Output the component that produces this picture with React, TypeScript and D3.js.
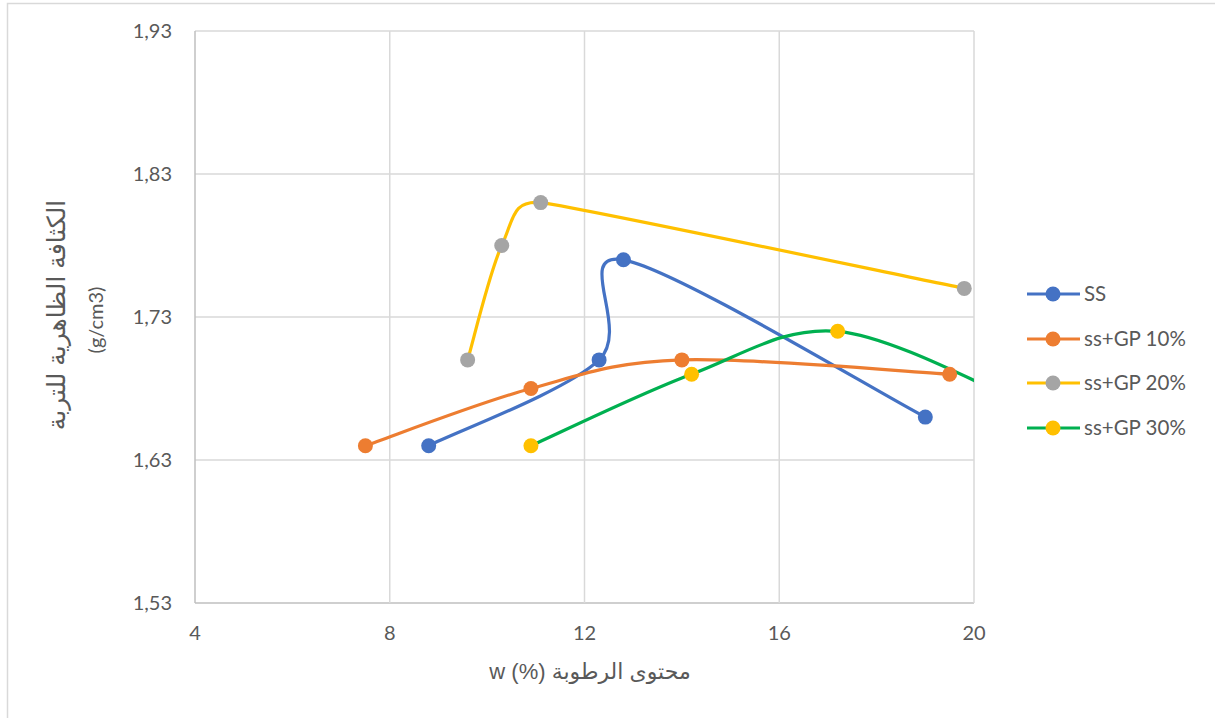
import React from "react";
import * as d3 from "d3";

const seriesNames = ["SS", "ss+GP 10%", "ss+GP 20%", "ss+GP 30%"];
const ssX = [8.8, 12.3, 12.8, 19.0];
const ssY = [1.64, 1.7, 1.77, 1.66];
const gp10X = [7.5, 10.9, 14.0, 19.5];
const gp10Y = [1.64, 1.68, 1.7, 1.69];
const gp20X = [9.6, 10.3, 11.1, 19.8];
const gp20Y = [1.7, 1.78, 1.81, 1.75];
const gp30X = [10.9, 14.2, 17.2, 21.0];
const gp30Y = [1.64, 1.69, 1.72, 1.67];
const xTicks = [4, 8, 12, 16, 20];
const yTicks = [1.53, 1.63, 1.73, 1.83, 1.93];

const lineColors = ["#4472C4", "#ED7D31", "#FFC000", "#00B050"];
const markerColors = ["#4472C4", "#ED7D31", "#A5A5A5", "#FFC000"];

const W = 1215;
const H = 718;
const L = 195, R = 974, T = 31, B = 603;

// Excel-like smoothed path through pixel points
function smoothPath(pts: number[][]): string {
  const n = pts.length;
  if (n < 2) return "";
  const dist = (a: number[], b: number[]) => Math.hypot(b[0] - a[0], b[1] - a[1]);
  // tangent vectors (scaled) at each point
  const tan: number[][] = pts.map((p, i) => {
    if (i === 0 || i === n - 1) return [0, 0];
    const p0 = pts[i - 1], p2 = pts[i + 1];
    const d02 = dist(p0, p2);
    const dmin = Math.min(dist(p0, p), dist(p, p2));
    let f = 1 / 6;
    if (d02 * f > dmin / 2) f = dmin / (2 * d02);
    return [(p2[0] - p0[0]) * f, (p2[1] - p0[1]) * f];
  });
  let d = `M${pts[0][0]},${pts[0][1]}`;
  for (let i = 0; i < n - 1; i++) {
    const a = pts[i], b = pts[i + 1];
    const c1 = i === 0 ? [a[0] + (b[0] - a[0]) / 6, a[1] + (b[1] - a[1]) / 6] : [a[0] + tan[i][0], a[1] + tan[i][1]];
    const c2 = i + 1 === n - 1 ? [b[0] - (b[0] - a[0]) / 6, b[1] - (b[1] - a[1]) / 6] : [b[0] - tan[i + 1][0], b[1] - tan[i + 1][1]];
    d += `C${c1[0]},${c1[1]} ${c2[0]},${c2[1]} ${b[0]},${b[1]}`;
  }
  return d;
}

export default function App() {
  const x = d3.scaleLinear().domain([4, 20]).range([L, R]);
  const y = d3.scaleLinear().domain([1.53, 1.93]).range([B, T]);
  const series = [
    ssX.map((v, i) => [v, ssY[i]]),
    gp10X.map((v, i) => [v, gp10Y[i]]),
    gp20X.map((v, i) => [v, gp20Y[i]]),
    gp30X.map((v, i) => [v, gp30Y[i]]),
  ];
  const fmt = (v: number) => d3.format(".2f")(v).replace(".", ",");
  const font = "Lato, 'Open Sans', sans-serif";
  const legendY = [294, 339, 383, 428];

  return (
    <svg
      width={W}
      height={H}
      style={{ position: "absolute", left: 0, top: 0, background: "#fff" }}
    >
      <defs>
        <clipPath id="plotclip">
          <rect x={L} y={T - 20} width={R - L} height={B - T + 40} />
        </clipPath>
      </defs>
      <rect x={7.5} y={3.5} width={1400} height={900} fill="#fff" stroke="#d9d9d9" strokeWidth={1.5} />
      {yTicks.map((t) => (
        <line key={"gy" + t} x1={L} x2={R} y1={y(t)} y2={y(t)} stroke={t === 1.53 ? "#bfbfbf" : "#d9d9d9"} strokeWidth={1.5} />
      ))}
      {xTicks.map((t) => (
        <line key={"gx" + t} x1={x(t)} x2={x(t)} y1={T} y2={B} stroke={t === 4 ? "#bfbfbf" : "#d9d9d9"} strokeWidth={1.5} />
      ))}
      {yTicks.map((t) => (
        <text key={"ty" + t} x={172} y={y(t)} dy="0.35em" textAnchor="end" fontFamily={font} fontSize={20} fill="#595959">
          {fmt(t)}
        </text>
      ))}
      {xTicks.map((t) => (
        <text key={"tx" + t} x={x(t)} y={633} dy="0.35em" textAnchor="middle" fontFamily={font} fontSize={20} fill="#595959">
          {t}
        </text>
      ))}
      <g clipPath="url(#plotclip)">
        {series.map((s, i) => (
          <path
            key={"l" + i}
            d={smoothPath(s.map((d) => [x(d[0]), y(d[1])]))}
            fill="none"
            stroke={lineColors[i]}
            strokeWidth={3.2}
            strokeLinecap="round"
          />
        ))}
        {series.map((s, i) =>
          s.map((d, j) => (
            <circle key={"m" + i + "-" + j} cx={x(d[0])} cy={y(d[1])} r={7.5} fill={markerColors[i]} />
          ))
        )}
      </g>
      {seriesNames.map((n, i) => (
        <g key={"lg" + i}>
          <line x1={1027} x2={1080} y1={legendY[i]} y2={legendY[i]} stroke={lineColors[i]} strokeWidth={3.2} />
          <circle cx={1053} cy={legendY[i]} r={7.5} fill={markerColors[i]} />
          <text x={1084} y={legendY[i]} dy="0.35em" fontFamily={font} fontSize={20.5} fill="#595959">
            {n}
          </text>
        </g>
      ))}
      <text
        transform="translate(65,315) rotate(-90)"
        textAnchor="middle"
        direction="rtl"
        fontFamily="'Liberation Sans', 'DejaVu Sans', sans-serif"
        fontSize={25}
        fill="#595959"
      >
        الكثافة الظاهرية للتربة
      </text>
      <text
        transform="translate(103,320) rotate(-90)"
        textAnchor="middle"
        fontFamily={font}
        fontSize={20}
        fill="#595959"
      >
        (g/cm3)
      </text>
      <text
        x={590}
        y={679}
        textAnchor="middle"
        direction="rtl"
        fontFamily="'Liberation Sans', 'DejaVu Sans', sans-serif"
        fontSize={22}
        fill="#595959"
      >
        محتوى الرطوبة (%) w
      </text>
    </svg>
  );
}
